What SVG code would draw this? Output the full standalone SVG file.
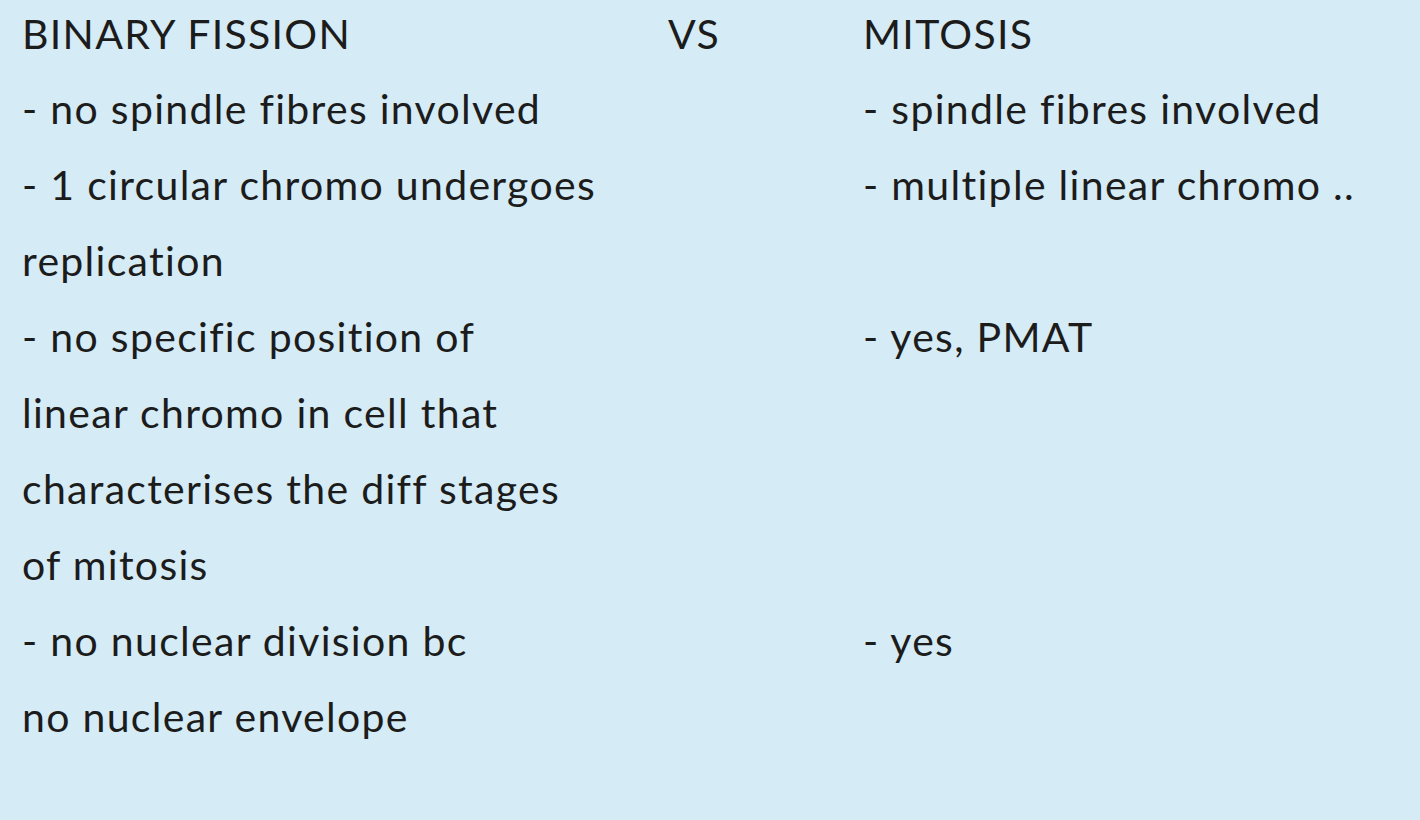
<svg xmlns="http://www.w3.org/2000/svg" width="1420" height="820" viewBox="0 0 1420 820">
<style>text{font-family:Lato,"Open Sans",sans-serif;font-size:41px;fill:#1c1c1c;letter-spacing:1.3px}</style>
<rect width="1420" height="820" fill="#D5EBF5"/>
<g id="left">
<text x="22" y="49">BINARY FISSION</text>
<text x="22" y="124">- no spindle fibres involved</text>
<text x="22" y="200">- 1 circular chromo undergoes</text>
<text x="22" y="276">replication</text>
<text x="22" y="352">- no specific position of</text>
<text x="22" y="428">linear chromo in cell that</text>
<text x="22" y="504">characterises the diff stages</text>
<text x="22" y="580">of mitosis</text>
<text x="22" y="656">- no nuclear division bc</text>
<text x="22" y="732">no nuclear envelope</text>
</g>
<g id="mid"><text x="668" y="49">VS</text></g>
<g id="right">
<text x="863" y="49">MITOSIS</text>
<text x="863" y="124">- spindle fibres involved</text>
<text x="863" y="200">- multiple linear chromo ..</text>
<text x="863" y="352">- yes, PMAT</text>
<text x="863" y="656">- yes</text>
</g>
</svg>
